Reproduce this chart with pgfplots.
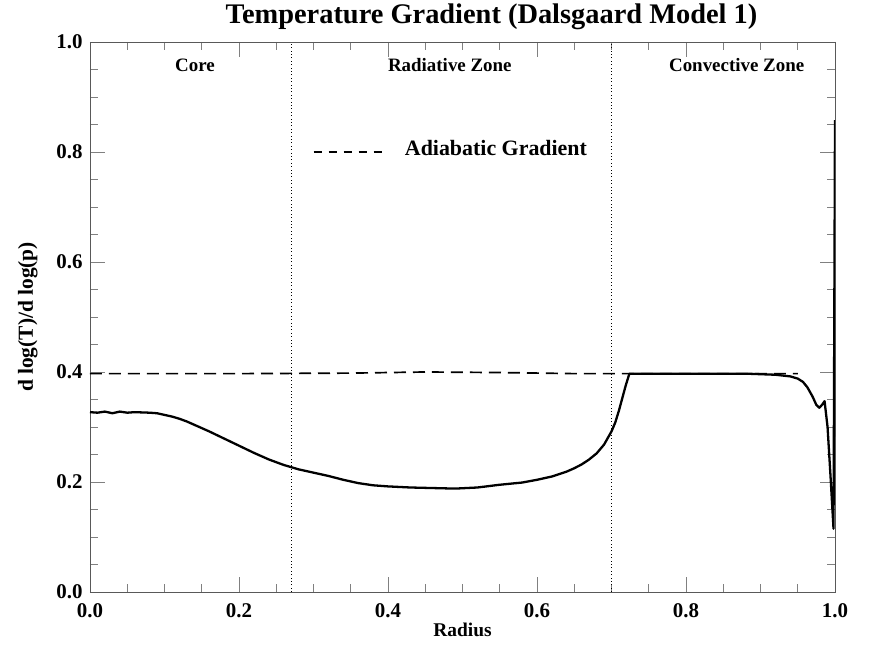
\documentclass[border=0pt]{standalone}
\usepackage{pgfplots}
\pgfplotsset{compat=1.18}
\usepackage{fontspec}
\setmainfont{Liberation Serif}

\begin{document}
\begin{tikzpicture}
\path[use as bounding box] (-90bp,-57bp) rectangle (789bp,592bp);
\begin{axis}[
    at={(0,0)}, anchor=south west,
    scale only axis, width=745bp, height=550bp,
    xmin=0, xmax=1, ymin=0, ymax=1,
    xtick={0,0.2,0.4,0.6,0.8,1.0},
    ytick={0,0.2,0.4,0.6,0.8,1.0},
    minor tick num=3,
    tick align=inside,
    major tick length=15bp, minor tick length=8bp,
    every tick/.style={gray, line width=0.7pt},
    axis line style={gray!70!black, line width=0.8pt},
    /pgf/number format/.cd, fixed, fixed zerofill, precision=1, assume math mode=true,
    /pgfplots/.cd,
    ticklabel style={font=\fontsize{21}{21}\selectfont\bfseries},
    xticklabel style={yshift=-8bp},
    yticklabel style={xshift=-4bp},
    title={Temperature Gradient (Dalsgaard Model 1)},
    title style={font=\fontsize{28.5}{28.5}\selectfont\bfseries, yshift=3bp, xshift=29bp},
    xlabel={Radius},
    ylabel={d log(T)/d log(p)},
    xlabel style={font=\fontsize{19.5}{19.5}\selectfont\bfseries, yshift=2bp},
    ylabel style={font=\fontsize{21.5}{21.5}\selectfont\bfseries, yshift=12bp},
  ]
  % adiabatic gradient
  \addplot[black, line width=1.7pt, dash pattern=on 12bp off 7bp] coordinates {
    (0,0.397)(0.2,0.397)(0.35,0.398)(0.45,0.400)(0.55,0.399)(0.65,0.397)(0.72,0.397)(0.95,0.397)
  };
  % temperature gradient
  \addplot[black, line width=2.3pt, line join=round] coordinates {
    (0,0.327)(0.01,0.326)(0.02,0.328)(0.03,0.325)(0.04,0.328)(0.05,0.326)(0.06,0.327)
    (0.08,0.326)(0.09,0.325)(0.10,0.322)(0.11,0.319)(0.12,0.315)(0.13,0.310)(0.14,0.304)
    (0.15,0.298)(0.16,0.292)(0.18,0.279)(0.20,0.266)
    (0.22,0.253)(0.24,0.241)(0.26,0.231)(0.28,0.223)(0.30,0.217)(0.32,0.211)(0.34,0.204)
    (0.36,0.198)(0.38,0.194)(0.40,0.192)(0.43,0.190)(0.46,0.189)(0.49,0.188)(0.52,0.190)
    (0.55,0.195)(0.58,0.199)(0.60,0.204)(0.62,0.210)(0.64,0.219)(0.65,0.225)(0.66,0.232)
    (0.67,0.241)(0.68,0.252)(0.69,0.268)(0.70,0.292)(0.705,0.308)(0.71,0.330)(0.714,0.350)
    (0.719,0.375)(0.724,0.397)(0.80,0.397)(0.88,0.397)
    (0.92,0.395)(0.94,0.392)(0.95,0.388)(0.957,0.382)(0.963,0.372)(0.97,0.355)(0.975,0.340)
    (0.979,0.335)(0.983,0.341)(0.986,0.347)(0.99,0.300)(0.994,0.210)(0.998,0.115)(1.0,0.858)
  };
  % zone boundaries
  \addplot[black, line width=0.6pt, dash pattern=on 0.8bp off 2.6bp] coordinates {(0.27,0)(0.27,1)};
  \addplot[black, line width=0.6pt, dash pattern=on 0.8bp off 2.6bp] coordinates {(0.70,0)(0.70,1)};
  % legend sample
  \addplot[black, line width=1.7pt, dash pattern=on 8bp off 7bp] coordinates {(0.30,0.80)(0.393,0.80)};
  \node[anchor=west, font=\fontsize{22}{22}\selectfont\bfseries] at (axis cs:0.418,0.807) {Adiabatic Gradient};
  \node[font=\fontsize{19}{19}\selectfont\bfseries] at (axis cs:0.141,0.958) {Core};
  \node[font=\fontsize{19}{19}\selectfont\bfseries] at (axis cs:0.483,0.958) {Radiative Zone};
  \node[font=\fontsize{19}{19}\selectfont\bfseries] at (axis cs:0.868,0.958) {Convective Zone};
\end{axis}
\end{tikzpicture}
\end{document}
